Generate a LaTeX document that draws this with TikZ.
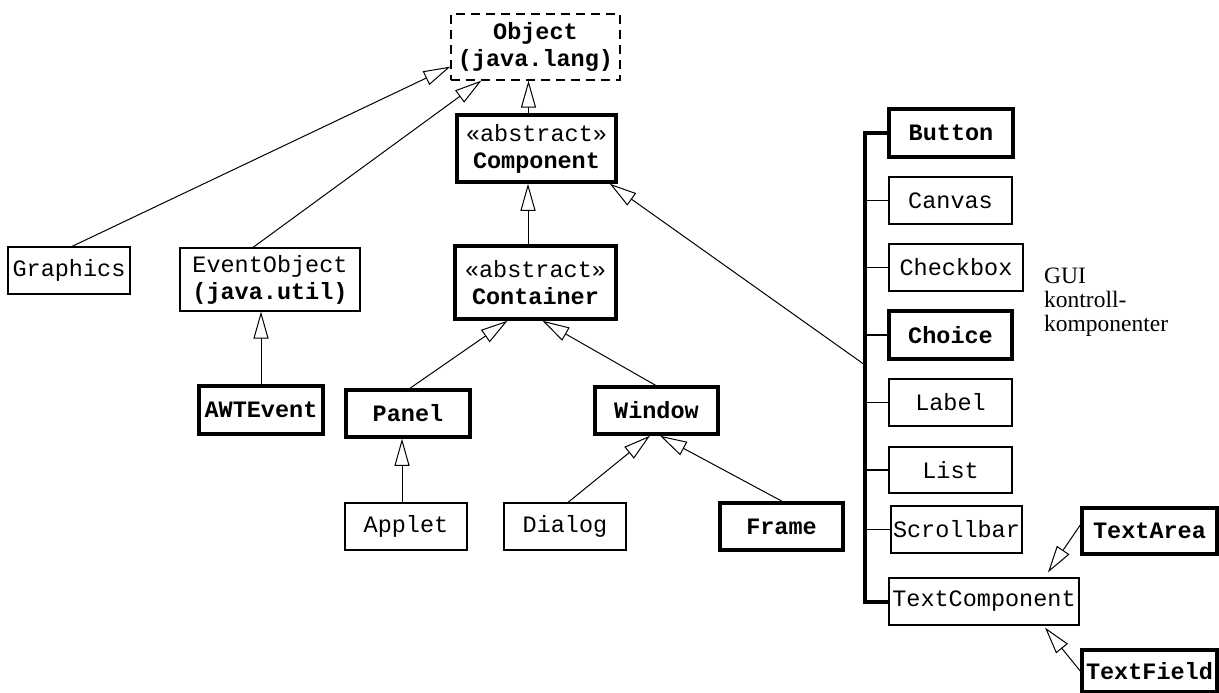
\documentclass[tikz,border=0pt]{standalone}
\usepackage{fontspec}
\setmainfont{Liberation Serif}
\setmonofont{Liberation Mono}
\usetikzlibrary{arrows.meta}
\begin{document}
\begin{tikzpicture}[x=1pt,y=-1pt,
  box/.style={draw, rectangle, inner sep=0pt, line width=1.2pt, align=center,
    font=\fontsize{23.5}{27}\selectfont\ttfamily},
  thickbox/.style={box, line width=3.5pt},
  inh/.style={line width=1pt, -{Triangle[length=27pt,width=15pt,fill=white]}},
  colline/.style={line width=4pt, line join=miter},
  branch/.style={line width=1.6pt},
  note/.style={inner sep=0pt, align=left, font=\fontsize{23.5}{24}\selectfont\rmfamily}]
\useasboundingbox (0,0) rectangle (1219,693);

% boxes
\node[box, dashed, dash pattern=on 9pt off 6pt, minimum width=169pt, minimum height=66pt] (object) at (535.5,47) {\textbf{Object}\\\textbf{(java.lang)}};
\node[thickbox, minimum width=159pt, minimum height=67pt] (component) at (536.5,148.5) {«abstract»\\\textbf{Component}};
\node[thickbox, minimum width=161pt, minimum height=73pt] (container) at (535.5,282.5) {«abstract»\\\textbf{Container}};
\node[box, minimum width=122pt, minimum height=47pt] (graphics) at (69,270.5) {Graphics};
\node[box, minimum width=180pt, minimum height=63pt] (eventobject) at (270,279.5) {EventObject\\\textbf{(java.util)}};
\node[thickbox, minimum width=124pt, minimum height=48pt] (awtevent) at (261,410) {\textbf{AWTEvent}};
\node[thickbox, minimum width=124pt, minimum height=47pt] (panel) at (408,413.5) {\textbf{Panel}};
\node[thickbox, minimum width=123pt, minimum height=47pt] (window) at (656.5,410.5) {\textbf{Window}};
\node[box, minimum width=122pt, minimum height=47pt] (applet) at (406,526.5) {Applet};
\node[box, minimum width=122pt, minimum height=47pt] (dialog) at (565,526.5) {Dialog};
\node[thickbox, minimum width=123pt, minimum height=47pt] (frame) at (781.5,526.5) {\textbf{Frame}};

\node[thickbox, minimum width=124pt, minimum height=48pt] (button) at (951,133) {\textbf{Button}};
\node[box, minimum width=123pt, minimum height=47pt] (canvas) at (950.5,200.5) {Canvas};
\node[box, minimum width=134pt, minimum height=47pt] (checkbox) at (956,267.5) {Checkbox};
\node[thickbox, minimum width=123pt, minimum height=48pt] (choice) at (950.5,335) {\textbf{Choice}};
\node[box, minimum width=123pt, minimum height=47pt] (label) at (950.5,402.5) {Label};
\node[box, minimum width=123pt, minimum height=46pt] (list) at (950.5,470) {List};
\node[box, minimum width=131pt, minimum height=47pt] (scrollbar) at (956.5,529.5) {Scrollbar};
\node[box, minimum width=190pt, minimum height=47pt] (textcomp) at (984,601.5) {TextComponent};
\node[thickbox, minimum width=135pt, minimum height=46pt] (textarea) at (1149.5,531) {\textbf{TextArea}};
\node[thickbox, minimum width=135pt, minimum height=42pt] (textfield) at (1149.5,671) {\textbf{TextField}};

\node[note, anchor=north west] (gui) at (1044,268) {GUI\\kontroll-\\komponenter};

% column
\coordinate (colx) at (865,300);
\coordinate (cj) at (865,365);
\draw[colline] (button.west) -| (colx) |- (textcomp.west);
\foreach \n in {canvas,checkbox,choice,label,list,scrollbar}
  \draw[branch] (\n.west) -- (\n.west -| colx);

% inheritance
\draw[inh] ([xshift=3pt]graphics.north) -- ([yshift=14pt]object.south west);
\draw[inh] ([xshift=-17pt]eventobject.north) -- ([xshift=31pt]object.south west);
\draw[inh] ([xshift=-8pt]component.north) -- ([xshift=-8pt]component.north |- object.south);
\draw[inh] ([xshift=-7.5pt]container.north) -- ([xshift=-7.5pt]container.north |- component.south);
\draw[inh] (cj) -- ([xshift=-8pt]component.south east);
\draw[inh] (awtevent.north) -- (awtevent.north |- eventobject.south);
\draw[inh] ([xshift=2pt]panel.north) -- ([xshift=-28pt]container.south);
\draw[inh] ([xshift=-1pt]window.north) -- ([xshift=7pt]container.south);
\draw[inh] ([xshift=-4pt]applet.north) -- ([xshift=-4pt]applet.north |- panel.south);
\draw[inh] ([xshift=3pt]dialog.north) -- ([xshift=-6.5pt]window.south);
\draw[inh] ([xshift=0.5pt]frame.north) -- ([xshift=3.5pt]window.south);
\draw[inh] ([yshift=6pt]textarea.west) -- ([xshift=64pt,yshift=5pt]textcomp.north);
\draw[inh] (textfield.west) -- ([xshift=61pt,yshift=-2pt]textcomp.south);
\end{tikzpicture}
\end{document}
